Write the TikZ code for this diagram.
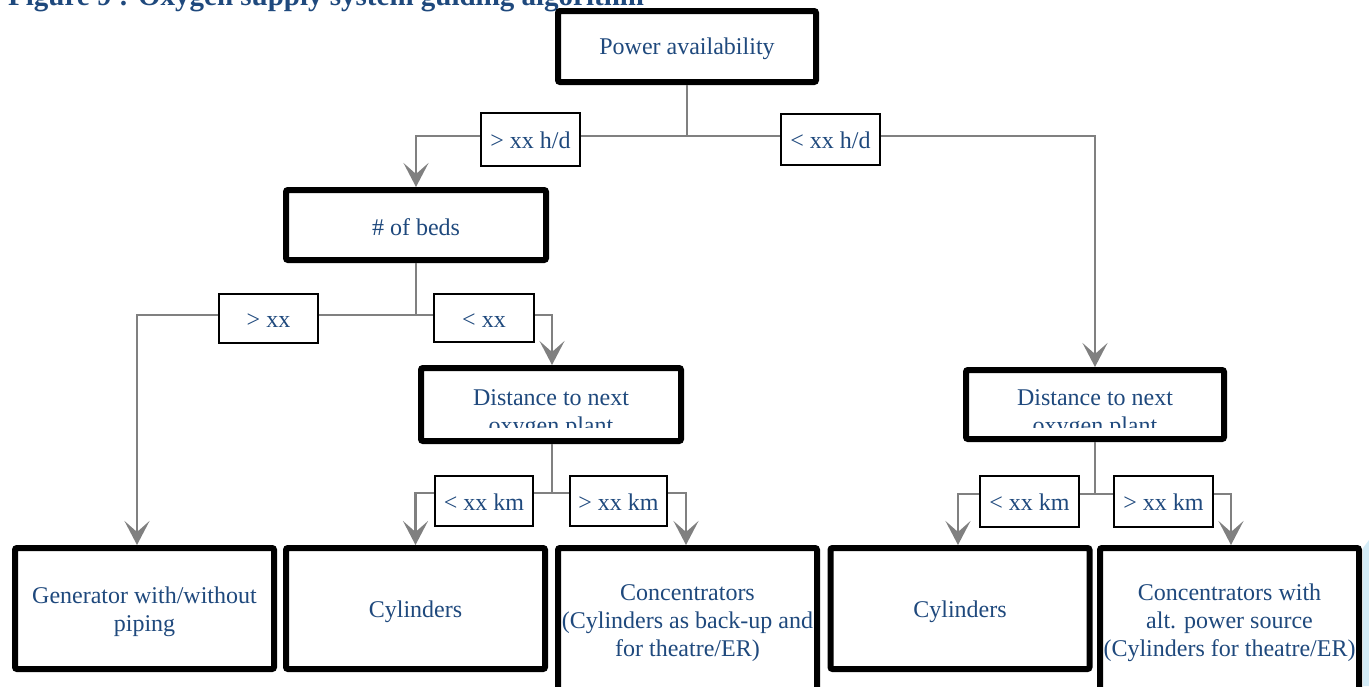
\documentclass[tikz,border=0pt]{standalone}
\usepackage{fontspec}
\setmainfont{Liberation Serif}
\usetikzlibrary{arrows.meta}
\definecolor{txtblue}{HTML}{1F497D}
\definecolor{lgray}{HTML}{808080}
\definecolor{stripblue}{HTML}{D4ECF7}
\begin{document}
\begin{tikzpicture}[x=1pt,y=-1pt,
  bigbox/.style={draw=black,line width=6pt,rounded corners=2pt,fill=white,inner sep=0pt,minimum width=259pt},
  txt/.style={text=txtblue,font=\fontsize{24}{28}\selectfont,align=center,inner sep=0pt,yshift=-3pt},
  lbl/.style={draw=black,line width=2pt,fill=white,text=txtblue,font=\fontsize{24}{28}\selectfont,inner sep=0pt,minimum width=99pt,minimum height=51pt,text height=19pt,text depth=1pt},
  conn/.style={draw=lgray,line width=2.5pt},
  arr/.style={conn,-{Stealth[length=24pt,width=25pt,inset=11pt]}}]
\useasboundingbox (0,0) rectangle (1369,686);
\clip (0,0) rectangle (1369,686);
% title (cut at top)
\node[anchor=base west,inner sep=0pt,text=txtblue,font=\bfseries\fontsize{29}{33}\selectfont] (title) at (8,5) {Figure 9 : Oxygen supply system guiding algorithm};
% light blue strip at right edge
\fill[stripblue] (1363,548) -- (1369,540) -- (1369,686) -- (1363,686) -- cycle;
% big boxes
\node[bigbox,minimum width=258pt,minimum height=71pt] (pa) at (687,46.5) {};
\node[txt,yshift=1pt] (pat) at (pa.center) {Power availability};
\node[bigbox,minimum width=260pt,minimum height=70pt] (beds) at (416,225) {};
\node[txt,yshift=1pt] (bedst) at (beds.center) {\# of beds};
\node[bigbox,minimum width=260pt,minimum height=73pt] (d1) at (551,404.5) {};
\node[bigbox,minimum width=258pt,minimum height=69pt] (d2) at (1095,404.5) {};
\begin{scope}
\clip (418,365) rectangle (684,427);
\node[txt] (d1t) at (551,411) {Distance to next\\oxygen plant};
\end{scope}
\begin{scope}
\clip (963,365) rectangle (1227,427);
\node[txt] (d2t) at (1095,411) {Distance to next\\oxygen plant};
\end{scope}
\node[bigbox,minimum height=121pt] (gen) at (144.5,608.5) {};
\node[txt] (gent) at (gen.center) {Generator with/without\\piping};
\node[bigbox,minimum height=121pt] (cyl1) at (415.5,608.5) {};
\node[txt] (cyl1t) at (cyl1.center) {Cylinders};
\node[bigbox,minimum height=144pt] (conc1) at (687.5,620) {};
\node[txt] (conc1t) at (conc1.center) {Concentrators\\(Cylinders as back-up and\\for theatre/ER)};
\node[bigbox,minimum height=121pt] (cyl2) at (960,608.5) {};
\node[txt] (cyl2t) at (cyl2.center) {Cylinders};
\node[bigbox,minimum height=144pt] (conc2) at (1229.5,620) {};
\node[txt] (conc2t) at (conc2.center) {Concentrators with\\alt. power source\\(Cylinders for theatre/ER)};
% label boxes
\node[lbl,minimum height=53pt] (l1) at (530.5,139.5) {> xx h/d};
\node[lbl,minimum height=51pt] (l2) at (830.5,139.5) {< xx h/d};
\node[lbl,minimum height=49pt] (l3) at (268.5,318.5) {> xx};
\node[lbl,minimum height=48pt,minimum width=100pt] (l4) at (484,318) {< xx};
\node[lbl,minimum height=50pt,minimum width=98pt] (l5) at (484,501) {< xx km};
\node[lbl,minimum height=50pt,minimum width=97pt] (l6) at (618.5,501) {> xx km};
\node[lbl,minimum height=51pt] (l7) at (1029.5,501.5) {< xx km};
\node[lbl,minimum height=51pt] (l8) at (1163.5,501.5) {> xx km};
% connectors
\coordinate (j1) at (687,136);
\draw[conn] (pa.south) -- (j1);
\draw[conn] (j1) -- (l1.east |- j1);
\draw[arr] (l1.west |- j1) -| (beds.north);
\draw[conn] (j1) -- (l2.west |- j1);
\draw[arr] (l2.east |- j1) -| (d2.north);
\coordinate (j2) at (416,315);
\draw[conn] (beds.south) -- (j2);
\draw[conn] (j2) -- (l3.east |- j2);
\draw[arr] (l3.west |- j2) -| ([xshift=-7.5pt]gen.north);
\draw[conn] (j2) -- (l4.west |- j2);
\draw[arr] (l4.east |- j2) -| ([xshift=1pt]d1.north);
\coordinate (j3) at (552,493);
\draw[conn] ([xshift=1pt]d1.south) -- (j3);
\draw[conn] (j3) -- (l5.east |- j3);
\draw[arr] (l5.west |- j3) -| (cyl1.north);
\draw[conn] (j3) -- (l6.west |- j3);
\draw[arr] (l6.east |- j3) -| ([xshift=-1.5pt]conc1.north);
\coordinate (j4) at (1095,494);
\draw[conn] (d2.south) -- (j4);
\draw[conn] (j4) -- (l7.east |- j4);
\draw[arr] (l7.west |- j4) -| ([xshift=-2pt]cyl2.north);
\draw[conn] (j4) -- (l8.west |- j4);
\draw[arr] (l8.east |- j4) -| ([xshift=1.5pt]conc2.north);
\end{tikzpicture}
\end{document}
